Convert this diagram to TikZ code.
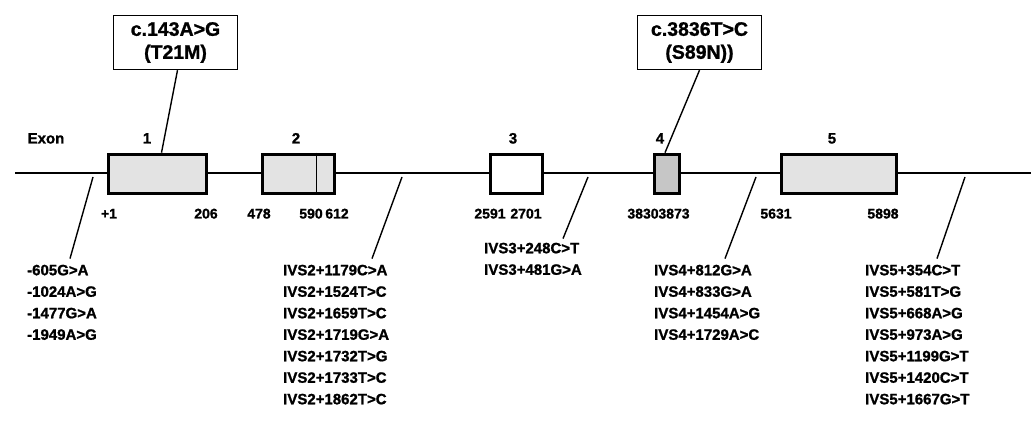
\documentclass[tikz,border=0pt]{standalone}
\usepackage{fontspec}
\setmainfont{Liberation Sans}[BoldFeatures={FakeBold=1.2}]
\begin{document}
\begin{tikzpicture}[x=1pt,y=-1pt,
  lbl/.style={font=\fontsize{15}{21.5}\selectfont\bfseries, inner sep=0pt},
  num/.style={lbl, anchor=base},
  posnum/.style={num, font=\fontsize{14}{16}\selectfont\bfseries},
  exonbox/.style={draw=black, line width=3.6pt, fill=gray!22, inner sep=0pt, minimum height=39pt},
  mutbox/.style={draw=black, line width=1.5pt, fill=white, align=center,
    font=\fontsize{19.5}{23}\selectfont\bfseries, minimum width=124pt, minimum height=54pt, inner sep=0pt},
  col/.style={lbl, align=left, anchor=north west},
  conn/.style={line width=1.4pt}]
\useasboundingbox (0,0) rectangle (1031,430);
% gene line
\coordinate (gl) at (15,173);
\coordinate (gr) at (1031,173);
\draw[conn] (gl) -- (gr);
% exons
\node[exonbox, minimum width=98pt] (e1) at (157.5,174) {};
\node[exonbox, minimum width=72pt] (e2) at (298.5,174) {};
\draw[line width=1.6pt] ([xshift=-20pt]e2.north east) -- ([xshift=-20pt]e2.south east);
\node[exonbox, fill=white, minimum width=52pt] (e3) at (516.5,174) {};
\node[exonbox, fill=gray!45, minimum width=25pt] (e4) at (667,174) {};
\node[exonbox, minimum width=115pt] (e5) at (839,174) {};
% exon labels
\node[num] (lx) at (46,143.5) {Exon};
\node[num] (l1) at (147,143.5) {1};
\node[num] (l2) at (296,143.5) {2};
\node[num] (l3) at (513,143.5) {3};
\node[num] (l4) at (660,143.5) {4};
\node[num] (l5) at (832,143.5) {5};
% positions
\node[posnum] (n1) at (109,218.5) {+1};
\node[posnum] (n2) at (206,218.5) {206};
\node[posnum] (n3) at (259,218.5) {478};
\node[posnum] (n4) at (311,218.5) {590};
\node[posnum] (n5) at (337,218.5) {612};
\node[posnum] (n6) at (490,218.5) {2591};
\node[posnum] (n7) at (526,218.5) {2701};
\node[posnum] (n8) at (643,218.5) {3830};
\node[posnum] (n9) at (674,218.5) {3873};
\node[posnum] (n10) at (776,218.5) {5631};
\node[posnum] (n11) at (883,218.5) {5898};
% mutation boxes
\node[mutbox] (m1) at (175.5,42.5) {c.143A>G\\(T21M)};
\node[mutbox] (m2) at (699.5,42.5) {c.3836T>C\\(S89N))};
\draw[conn] ([xshift=2pt]m1.south) -- ([xshift=4pt]e1.north);
\draw[conn] ([xshift=0pt]m2.south) -- ([xshift=-2pt]e4.north);
% variant columns
\node[col] (c0) at (27,264.6) {-605G>A\\-1024A>G\\-1477G>A\\-1949A>G};
\node[col] (c2) at (283,264.6) {IVS2+1179C>A\\IVS2+1524T>C\\IVS2+1659T>C\\IVS2+1719G>A\\IVS2+1732T>G\\IVS2+1733T>C\\IVS2+1862T>C};
\node[col] (c3) at (484,242.6) {IVS3+248C>T\\IVS3+481G>A};
\node[col] (c4) at (654,264.6) {IVS4+812G>A\\IVS4+833G>A\\IVS4+1454A>G\\IVS4+1729A>C};
\node[col] (c5) at (865,264.6) {IVS5+354C>T\\IVS5+581T>G\\IVS5+668A>G\\IVS5+973A>G\\IVS5+1199G>T\\IVS5+1420C>T\\IVS5+1667G>T};
% connectors to variant columns
\coordinate (p0) at (93,177);
\coordinate (p2) at (402,177);
\coordinate (p3) at (588,177);
\coordinate (p4) at (756,177);
\coordinate (p5) at (965,177);
\draw[conn] (p0) -- ([shift={(43,-6)}]c0.north west);
\draw[conn] (p2) -- ([shift={(89,-6)}]c2.north west);
\draw[conn] (p3) -- ([shift={(79,-4)}]c3.north west);
\draw[conn] (p4) -- ([shift={(71,-6)}]c4.north west);
\draw[conn] (p5) -- ([shift={(72,-6)}]c5.north west);
\end{tikzpicture}
\end{document}
